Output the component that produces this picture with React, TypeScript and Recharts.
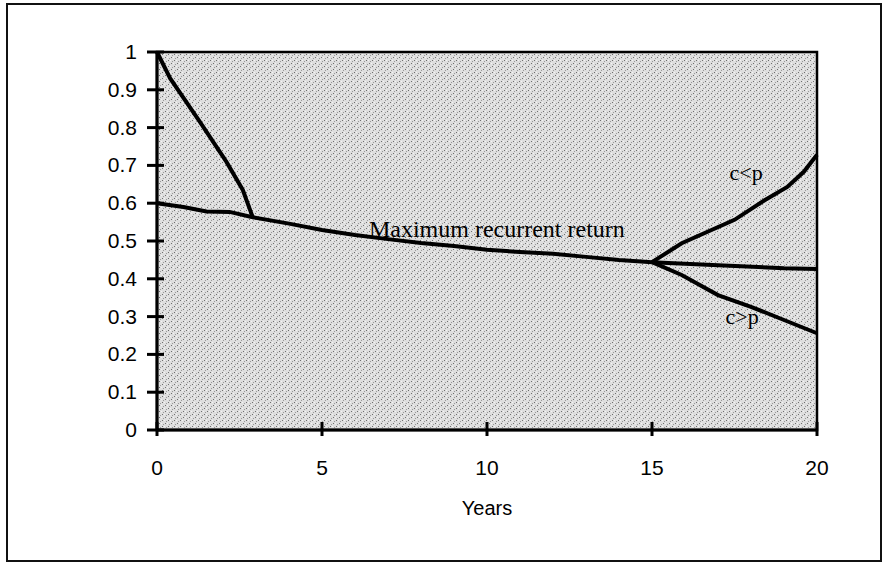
import React from "react";
import { LineChart, Line, XAxis, YAxis, ReferenceArea, ReferenceDot } from "recharts";

// years / values
const steepYears = [0, 0.4, 1.3, 2.1, 2.6, 2.9];
const steepValues = [1.0, 0.93, 0.815, 0.71, 0.635, 0.563];

const maxYears = [0, 0.8, 1.5, 2.2, 2.9, 4, 5, 6, 7, 8, 9, 10, 11, 12, 13, 14, 15];
const maxValues = [0.6, 0.59, 0.578, 0.577, 0.563, 0.546, 0.529, 0.516, 0.505, 0.495, 0.487, 0.477, 0.471, 0.466, 0.458, 0.45, 0.444];

const flatYears = [15, 17, 19, 20];
const flatValues = [0.444, 0.436, 0.428, 0.426];

const lowYears = [15, 15.9, 17, 18, 19, 20];
const lowValues = [0.444, 0.41, 0.357, 0.326, 0.291, 0.256];

const highYears = [15, 15.9, 17.5, 18.4, 19.1, 19.6, 20];
const highValues = [0.444, 0.494, 0.556, 0.607, 0.643, 0.683, 0.728];

const xTicks = [0, 5, 10, 15, 20];
const yTicks = [0, 0.1, 0.2, 0.3, 0.4, 0.5, 0.6, 0.7, 0.8, 0.9, 1];

const toPoints = (xs: number[], ys: number[]) => xs.map((x, i) => ({ x, y: ys[i] }));

const axisFont = "'Liberation Sans', Arial, sans-serif";
const serifFont = "'Liberation Serif', 'Times New Roman', serif";

const YTick = (props: any) => {
  const { x, y, payload } = props;
  return (
    <g>
      <line x1={x - 10} x2={x + 7} y1={y} y2={y} stroke="#000" strokeWidth={3} />
      <text x={x - 20} y={y} dy={7} textAnchor="end" fontSize={21} fontFamily={axisFont} fill="#000">
        {payload.value}
      </text>
    </g>
  );
};

const XTick = (props: any) => {
  const { x, y, payload } = props;
  return (
    <g>
      <line x1={x} x2={x} y1={y - 8} y2={y + 6} stroke="#000" strokeWidth={3} />
      <text x={x} y={y + 45} textAnchor="middle" fontSize={21} fontFamily={axisFont} fill="#000">
        {payload.value}
      </text>
    </g>
  );
};

const note = (text: string, size: number) => (p: any) => (
  <text x={p.cx} y={p.cy} textAnchor="middle" dominantBaseline="central" fontSize={size} fontFamily={serifFont} fill="#000">
    {text}
  </text>
);

export default function App() {
  const lineProps = {
    dataKey: "y",
    type: "linear" as const,
    stroke: "#000",
    strokeWidth: 4,
    dot: false,
    isAnimationActive: false,
  };

  return (
    <div style={{ position: "fixed", left: 0, top: 0, width: 883, height: 564, background: "#fff" }}>
      <div
        style={{
          position: "absolute",
          left: 6,
          top: 3,
          width: 876,
          height: 559,
          border: "2px solid #111",
          boxSizing: "border-box",
        }}
      />
      <div style={{ position: "absolute", left: 0, top: 0 }}>
        <LineChart width={883} height={564} margin={{ top: 52, right: 66, bottom: 44, left: 97 }}>
          <defs>
            <pattern id="stipple" width="6" height="6" patternUnits="userSpaceOnUse">
              <rect width="6" height="6" fill="#dedede" />
              <rect x="0" y="0" width="1" height="1" fill="#6e6e6e" />
              <rect x="3" y="3" width="1" height="1" fill="#6e6e6e" />
              <rect x="1" y="4" width="1" height="1" fill="#9a9a9a" />
              <rect x="4" y="1" width="1" height="1" fill="#9a9a9a" />
              <rect x="2" y="0" width="1" height="1" fill="#f4f4f4" />
              <rect x="5" y="3" width="1" height="1" fill="#f4f4f4" />
            </pattern>
          </defs>
          <XAxis
            dataKey="x"
            type="number"
            domain={[0, 20]}
            ticks={xTicks}
            height={90}
            tickSize={0}
            tickMargin={0}
            tickLine={false}
            tick={<XTick />}
            axisLine={{ stroke: "#000", strokeWidth: 3 }}
            label={{ value: "Years", position: "insideBottom", offset: 5, fontSize: 20, fontFamily: axisFont, fill: "#000" }}
          />
          <YAxis
            type="number"
            domain={[0, 1]}
            ticks={yTicks}
            width={60}
            tickSize={0}
            tickMargin={0}
            tickLine={false}
            tick={<YTick />}
            axisLine={{ stroke: "#000", strokeWidth: 3 }}
          />
          <ReferenceArea x1={0} x2={20} y1={0} y2={1} fill="url(#stipple)" fillOpacity={1} stroke="#000" strokeWidth={2.5} />
          <Line {...lineProps} data={toPoints(steepYears, steepValues)} />
          <Line {...lineProps} data={toPoints(maxYears, maxValues)} />
          <Line {...lineProps} data={toPoints(flatYears, flatValues)} />
          <Line {...lineProps} data={toPoints(lowYears, lowValues)} />
          <Line {...lineProps} data={toPoints(highYears, highValues)} />
          <ReferenceDot x={10.3} y={0.532} r={0} shape={note("Maximum recurrent return", 24)} />
          <ReferenceDot x={17.85} y={0.68} r={0} shape={note("c<p", 22)} />
          <ReferenceDot x={17.73} y={0.3} r={0} shape={note("c>p", 22)} />
        </LineChart>
      </div>
    </div>
  );
}
